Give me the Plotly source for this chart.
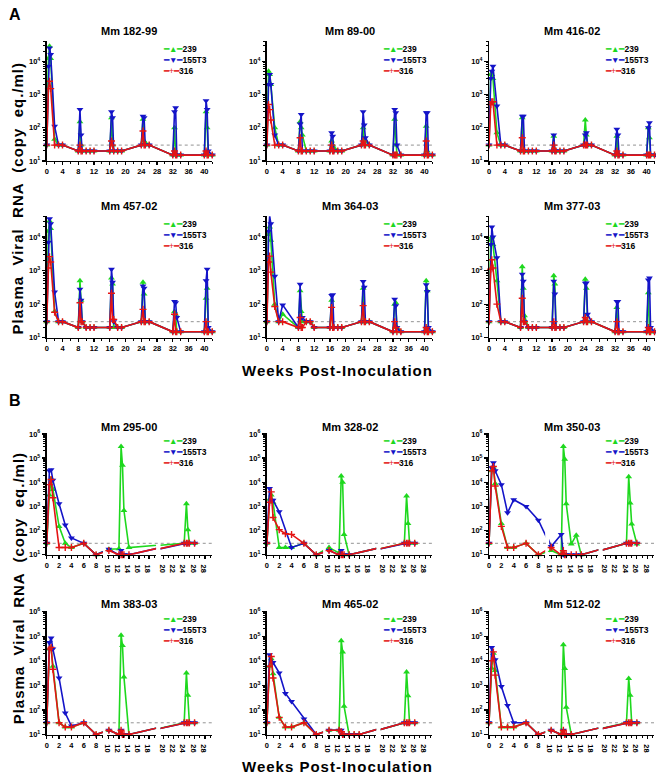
import plotly.graph_objects as go

FONT = "Liberation Sans, Arial, sans-serif"
GREEN, BLUE, RED = "#1ED81E", "#1414C8", "#E41414"
SERIES = ["239", "155T3", "316"]
LOD = 30

# ---------------- Panel A (weeks 0-42) ----------------
tA = [0, 0.43, 0.71, 1, 2, 3, 4, 8, 8.43, 8.71, 9, 10, 11, 12,
      16, 16.43, 16.71, 17, 18, 19, 24, 24.43, 24.71, 25, 26,
      32, 32.43, 32.71, 33, 34, 40, 40.43, 40.71, 41, 42]
ticksA = [0, 4, 8, 12, 16, 20, 24, 28, 32, 36, 40]

a182_99_239 = [30, 12000, 28000, 12000, 45, 30, 30, 20, 150, 30, 20, 20, 20, 20, 20, 200, 30, 20, 20, 20, 30, 180, 40, 35, 30, 15, 100, 15, 15, 15, 15, 300, 100, 15, 15]
a182_99_155 = [30, 7000, 25000, 16000, 110, 30, 30, 20, 350, 60, 20, 20, 20, 20, 20, 300, 200, 20, 20, 20, 30, 220, 200, 30, 30, 15, 300, 400, 15, 15, 15, 650, 350, 20, 15]
a182_99_316 = [30, 1500, 2500, 1500, 30, 30, 30, 20, 30, 20, 20, 20, 20, 20, 20, 40, 30, 20, 20, 20, 30, 80, 30, 30, 30, 15, 20, 15, 15, 15, 15, 20, 15, 15, 15]

a89_00_239 = [30, 5000, 4000, 2000, 100, 30, 30, 20, 150, 100, 60, 20, 20, 20, 20, 40, 30, 25, 20, 20, 30, 100, 45, 40, 30, 15, 180, 30, 15, 15, 15, 110, 20, 15, 15]
a89_00_155 = [30, 2000, 4000, 2000, 60, 30, 30, 20, 130, 250, 20, 20, 20, 20, 20, 70, 55, 20, 20, 20, 30, 300, 120, 50, 30, 15, 350, 280, 30, 15, 15, 280, 280, 15, 15]
a89_00_316 = [30, 500, 350, 170, 30, 30, 30, 20, 50, 20, 20, 20, 20, 20, 20, 30, 20, 20, 20, 20, 30, 40, 30, 30, 30, 15, 15, 15, 15, 15, 15, 40, 15, 15, 15]

a416_02_239 = [30, 4000, 4000, 3000, 70, 30, 30, 20, 200, 20, 20, 20, 20, 20, 20, 55, 20, 20, 20, 20, 30, 170, 60, 30, 30, 15, 55, 15, 15, 15, 15, 100, 50, 15, 15]
a416_02_155 = [30, 3000, 5000, 7000, 450, 30, 30, 20, 220, 220, 20, 20, 20, 20, 20, 60, 20, 20, 20, 20, 30, 60, 70, 30, 30, 15, 90, 60, 15, 15, 15, 100, 140, 15, 15]
a416_02_316 = [30, 500, 600, 600, 30, 30, 30, 20, 50, 20, 20, 20, 20, 20, 20, 30, 20, 20, 20, 20, 30, 30, 30, 30, 30, 15, 20, 15, 15, 15, 15, 15, 15, 15, 15]

a457_02_239 = [30, 15000, 30000, 18000, 60, 30, 30, 20, 500, 130, 30, 20, 20, 20, 20, 600, 400, 20, 20, 20, 30, 450, 200, 30, 30, 15, 60, 50, 15, 15, 15, 150, 300, 15, 15]
a457_02_155 = [30, 7000, 35000, 25000, 230, 30, 30, 20, 280, 130, 30, 20, 20, 20, 20, 1100, 450, 30, 20, 20, 30, 350, 300, 30, 30, 15, 120, 110, 40, 15, 15, 500, 1100, 20, 15]
a457_02_316 = [30, 1200, 2600, 1800, 57, 30, 30, 20, 110, 30, 30, 20, 20, 20, 20, 210, 35, 35, 20, 20, 30, 70, 30, 30, 30, 15, 50, 15, 15, 15, 15, 30, 15, 15, 15]

a364_03_239 = [30, 12000, 20000, 8000, 100, 30, 50, 20, 250, 60, 30, 30, 30, 20, 20, 130, 20, 20, 20, 20, 30, 300, 30, 30, 30, 15, 100, 110, 20, 15, 15, 500, 250, 15, 15]
a364_03_155 = [30, 15000, 42000, 25000, 680, 30, 95, 20, 390, 40, 40, 30, 30, 20, 20, 180, 190, 20, 20, 20, 30, 470, 320, 30, 30, 15, 140, 90, 20, 15, 15, 380, 240, 20, 15]
a364_03_316 = [30, 1800, 2700, 900, 85, 30, 30, 20, 40, 20, 20, 30, 30, 20, 20, 80, 20, 20, 20, 20, 30, 90, 30, 30, 30, 15, 30, 20, 15, 15, 15, 20, 15, 15, 15]

a377_03_239 = [30, 8000, 10000, 6000, 500, 30, 30, 20, 1300, 300, 45, 20, 20, 20, 20, 700, 400, 20, 20, 20, 30, 550, 300, 30, 30, 15, 80, 15, 15, 15, 15, 220, 15, 15, 15]
a377_03_155 = [30, 6000, 20000, 10000, 2400, 30, 30, 20, 780, 480, 30, 20, 20, 20, 20, 480, 200, 20, 20, 20, 30, 420, 430, 50, 30, 15, 120, 120, 15, 15, 15, 520, 600, 20, 15]
a377_03_316 = [30, 1100, 2100, 1200, 100, 30, 30, 20, 150, 30, 30, 20, 20, 20, 20, 30, 20, 20, 20, 20, 30, 40, 30, 30, 30, 15, 30, 15, 15, 15, 15, 20, 15, 15, 15]

# ---------------- Panel B (weeks 0-28, broken axis) ----------------
tB = [0, 0.43, 0.71, 1, 2, 3, 4, 6, 8, 10, 12, 12.43, 12.71, 13, 14, 15, 16,
      24, 24.43, 24.71, 25, 26]
segRangesB = [[0, 9.1], [9.6, 19.4], [19.45, 29.3]]
segTicksB = [[0, 2, 4, 6, 8], [10, 12, 14, 16, 18], [20, 22, 24, 26, 28]]

b295_00_239 = [30, 3000, 14000, 5000, 150, 30, 20, 30, 10, 17, 18, 300000, 51000, 680, 20, None, None, 30, 1300, 110, 30, 30]
b295_00_155 = [30, 30000, 33000, 12000, 1300, 170, 50, 30, 10, 17, 10, 15, 10, 10, 10, None, None, 30, 30, 30, 30, 30]
b295_00_316 = [30, 8000, 13000, 2300, 20, 20, 20, 30, 10, 15, 10, 10, 10, 10, 10, None, None, 30, 30, 30, 30, 30]

b328_02_239 = [30, 2000, 3000, 1500, 20, 20, 20, 30, 10, 20, 12, 18000, 10000, 70, 10, None, None, 30, 2700, 200, 30, 30]
b328_02_155 = [30, 5500, 1800, 1800, 600, None, 20, 30, 10, 15, 10, 15, 10, 10, 10, None, None, 30, 30, 30, 30, 30]
b328_02_316 = [30, 1500, 4000, 350, 110, 75, 70, 30, 10, 15, 10, 10, 10, 10, 10, None, None, 30, 30, 30, 30, 30]

b350_03_239 = [30, 30000, 40000, 9000, 200, 20, 20, 30, 10, 15, 10, 300000, 90000, 1300, 28, 65, 10, 30, 17000, 1400, 190, 28]
b350_03_155 = [30, 40000, 65000, 30000, 8000, 550, 1900, 1000, 270, 22, 70, 10, 10, 10, 10, 10, 10, 30, 30, 30, 30, 30]
b350_03_316 = [30, 30000, 45000, 7000, 150, 20, 20, 30, 10, 20, 10, 15, 10, 10, 10, 10, 10, 30, 30, 30, 30, 30]

b383_03_239 = [30, 30000, 35000, 6000, 30, 20, 20, 30, 10, 15, 10, 110000, 42000, 2200, 10, None, None, 30, 3200, 400, 30, 30]
b383_03_155 = [30, 55000, 85000, 30000, 2000, 75, 22, 30, 10, 15, 10, 15, 10, 10, 10, None, None, 30, 30, 30, 30, 30]
b383_03_316 = [30, 30000, 35000, 4500, 30, 20, 20, 30, 10, 15, 10, 15, 10, 10, 10, None, None, 30, 30, 30, 30, 30]

b465_02_239 = [30, 6000, 12000, 3000, 50, 20, 20, 30, 10, 15, 15, 65000, 23000, 140, 10, 10, 10, 30, 3500, 380, 30, 30]
b465_02_155 = [30, 17500, None, 8500, 3200, 470, 220, 43, 10, 15, 15, 15, 10, 10, 10, 10, 10, 30, 30, 30, 30, 30]
b465_02_316 = [30, 6000, 15000, 2000, 50, 20, 20, 30, 10, 15, 15, 13, 10, 10, 10, 10, 10, 30, 30, 30, 30, 30]

b512_02_239 = [30, 5000, 20000, 4000, 20, 20, 20, 30, 10, 15, 10, 45000, 4800, 130, 10, None, None, 30, 1900, 400, 30, 30]
b512_02_155 = [30, 35000, None, 11000, 900, 150, 30, 30, 10, 15, 10, 15, 10, 10, 10, None, None, 30, 30, 30, 30, 30]
b512_02_316 = [30, 10000, 23000, 2600, 20, 20, 20, 30, 10, 15, 10, 15, 10, 10, 10, None, None, 30, 30, 30, 30, 30]

A_PANELS = [
    ("Mm 182-99", [a182_99_239, a182_99_155, a182_99_316]),
    ("Mm 89-00", [a89_00_239, a89_00_155, a89_00_316]),
    ("Mm 416-02", [a416_02_239, a416_02_155, a416_02_316]),
    ("Mm 457-02", [a457_02_239, a457_02_155, a457_02_316]),
    ("Mm 364-03", [a364_03_239, a364_03_155, a364_03_316]),
    ("Mm 377-03", [a377_03_239, a377_03_155, a377_03_316]),
]
B_PANELS = [
    ("Mm 295-00", [b295_00_239, b295_00_155, b295_00_316]),
    ("Mm 328-02", [b328_02_239, b328_02_155, b328_02_316]),
    ("Mm 350-03", [b350_03_239, b350_03_155, b350_03_316]),
    ("Mm 383-03", [b383_03_239, b383_03_155, b383_03_316]),
    ("Mm 465-02", [b465_02_239, b465_02_155, b465_02_316]),
    ("Mm 512-02", [b512_02_239, b512_02_155, b512_02_316]),
]

COLORS = [GREEN, BLUE, RED]
SYMBOLS = ["triangle-up", "triangle-down", "cross-thin"]
GLYPHS = ["━▲━", "━▼━", "━+━"]

# ---------------- layout geometry (pixels) ----------------
W, H = 656, 779
COL_X = [43, 264.5, 488]
PLOT_W = 166.5
ROWS_A = [(36, 158), (214, 337)]
ROWS_B = [(434, 557), (614, 739)]
SEG_PX = [(0, 56.5), (60.5, 110), (114.5, 166)]


def fx(p):
    return p / W


def fy(p):
    return 1 - p / H


layout = dict(width=W, height=H, margin=dict(l=0, r=0, t=0, b=0),
              paper_bgcolor="white", plot_bgcolor="rgba(0,0,0,0)",
              showlegend=False, font=dict(family=FONT, color="black"))
annotations, shapes, traces = [], [], []
counter = {"x": 0, "y": 0}


def next_ax(kind):
    counter[kind] += 1
    n = counter[kind]
    return (f"{kind}axis" if n == 1 else f"{kind}axis{n}"), (kind if n == 1 else f"{kind}{n}")


def base_axis():
    return dict(showline=True, linecolor="black", linewidth=1.5, ticks="outside",
                ticklen=3, tickwidth=1.2, tickcolor="black", showgrid=False,
                zeroline=False, fixedrange=True,
                tickfont=dict(family=FONT, size=7.5, color="black", weight="bold"))


def y_axis(name, anchor, top, bot, rng):
    exps = list(range(int(rng[0]), int(rng[1]) + 1))
    ax = base_axis()
    ax.update(type="log", domain=[fy(bot), fy(top)], range=rng, anchor=anchor,
              tickmode="array", tickvals=[10 ** e for e in exps],
              ticktext=[f"10<sup>{e}</sup>" for e in exps], ticklen=3.5,
              minor=dict(ticks="outside", ticklen=2, tickwidth=1, tickcolor="black",
                         dtick="D1", showgrid=False))
    layout[name] = ax


def add_series(xref, yref, tvals, ys):
    for k in range(3):
        traces.append(go.Scatter(
            x=tvals, y=ys[k], xaxis=xref, yaxis=yref, mode="lines+markers",
            name=SERIES[k], connectgaps=True, cliponaxis=False,
            line=dict(color=COLORS[k], width=1.6),
            marker=dict(symbol=SYMBOLS[k], size=6 if k < 2 else 5, color=COLORS[k],
                        line=dict(color=COLORS[k], width=1.4 if k == 2 else 0))))


def add_title_legend(x0, top, title, title_dy):
    annotations.append(dict(x=fx(x0 + PLOT_W / 2), y=fy(top - title_dy), xref="paper", yref="paper",
                            text=f"<b>{title}</b>", showarrow=False, xanchor="center", yanchor="middle",
                            font=dict(family=FONT, size=11, color="black")))
    lines = [f"<span style='color:{COLORS[k]}'>{GLYPHS[k]}</span><b>{SERIES[k]}</b>" for k in range(3)]
    annotations.append(dict(
        x=fx(x0 + 116), y=fy(top + 2), xref="paper", yref="paper", showarrow=False,
        xanchor="left", yanchor="top", align="left", borderpad=0,
        text="<br>".join(lines), font=dict(family=FONT, size=8.5, color="black")))


def lod_line(yref, x_left, x_right):
    shapes.append(dict(type="line", xref="paper", yref=yref, x0=fx(x_left), x1=fx(x_right),
                       y0=LOD, y1=LOD, line=dict(color="#777777", width=0.8, dash="dot"),
                       layer="below"))


# Panel A
for i, (title, ys) in enumerate(A_PANELS):
    col, row = i % 3, i // 3
    x0 = COL_X[col]
    top, bot = ROWS_A[row]
    xname, xref = next_ax("x")
    yname, yref = next_ax("y")
    ax = base_axis()
    ax.update(domain=[fx(x0), fx(x0 + PLOT_W)], range=[0, 42], anchor=yref,
              tickmode="array", tickvals=ticksA,
              minor=dict(ticks="outside", ticklen=2, tickwidth=1, tickcolor="black", dtick=2))
    layout[xname] = ax
    y_axis(yname, xref, top, bot, [1, 4.62])
    lod_line(yref, x0, x0 + PLOT_W)
    add_series(xref, yref, tA, ys)
    add_title_legend(x0, top, title, 10)

# Panel B
for i, (title, ys) in enumerate(B_PANELS):
    col, row = i % 3, i // 3
    x0 = COL_X[col]
    top, bot = ROWS_B[row]
    yname, yref = next_ax("y")
    first_x = None
    for s in range(3):
        xname, xref = next_ax("x")
        if first_x is None:
            first_x = xref
        ax = base_axis()
        ax.update(domain=[fx(x0 + SEG_PX[s][0]), fx(x0 + SEG_PX[s][1])], range=segRangesB[s],
                  anchor=yref, tickmode="array", tickvals=segTicksB[s],
                  minor=dict(ticks="outside", ticklen=2, tickwidth=1, tickcolor="black", dtick=1))
        layout[xname] = ax
        add_series(xref, yref, tB, ys)
    y_axis(yname, first_x, top, bot, [1, 6.02])
    lod_line(yref, x0, x0 + SEG_PX[2][1])
    add_title_legend(x0, top, title, 7)

# Panel letters and shared axis titles
for letter, py in [("A", 10), ("B", 401)]:
    annotations.append(dict(x=fx(3), y=fy(py), xref="paper", yref="paper", text=f"<b>{letter}</b>",
                            showarrow=False, xanchor="left", yanchor="middle",
                            font=dict(family=FONT, size=16, color="black")))
for py in [370, 771]:
    annotations.append(dict(x=fx(336), y=fy(py), xref="paper", yref="paper",
                            text="<span style='letter-spacing:1px'><b>Weeks Post-Inoculation</b></span>",
                            showarrow=False, xanchor="center", yanchor="middle",
                            font=dict(family=FONT, size=15, color="black")))
for py in [196, 591]:
    annotations.append(dict(x=fx(14), y=fy(py), xref="paper", yref="paper", textangle=-90,
                            text="<span style='letter-spacing:1px'><b>Plasma  Viral  RNA  (copy  eq./ml)</b></span>",
                            showarrow=False, xanchor="center", yanchor="middle",
                            font=dict(family=FONT, size=15, color="black")))

layout["annotations"] = annotations
layout["shapes"] = shapes
fig = go.Figure(data=traces, layout=layout)
fig.write_html("out.html", config={"displayModeBar": False, "staticPlot": True},
               post_script="document.body.style.margin='0';document.body.style.overflow='hidden';")
